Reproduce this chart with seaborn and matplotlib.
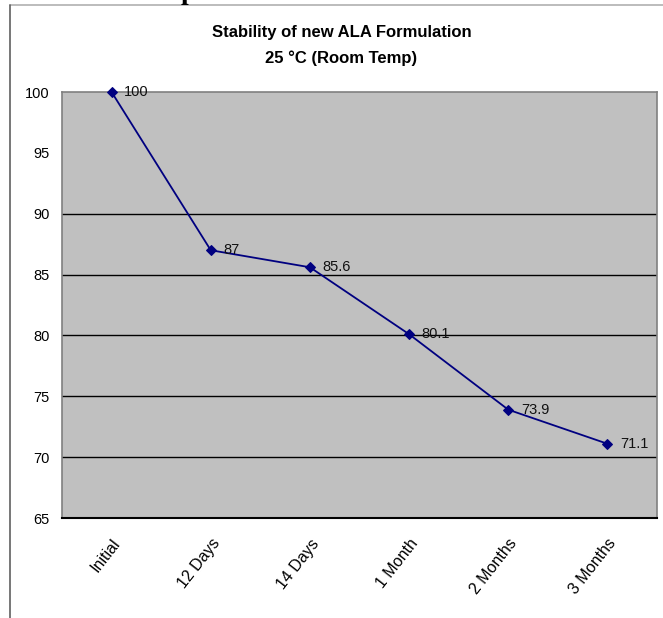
import matplotlib
matplotlib.use('Agg')
from matplotlib import pyplot as plt
import matplotlib.lines as mlines
import pandas as pd
import seaborn as sn

# stability readings (% of initial)
time_points = ['Initial', '12 Days', '14 Days', '1 Month', '2 Months', '3 Months']
percent_left = [100, 87, 85.6, 80.1, 73.9, 71.1]
y_ticks = [65, 70, 75, 80, 85, 90, 95, 100]
grid_levels = [70, 75, 80, 85, 90]

sn.set_style('white')
plt.rcParams['font.family'] = ['Liberation Sans', 'DejaVu Sans']
plt.rcParams['text.color'] = 'black'
plt.rcParams['xtick.color'] = 'black'
plt.rcParams['ytick.color'] = 'black'

df = pd.DataFrame({'time': time_points, 'pct': percent_left})
df['pos'] = range(len(df))

fig = plt.figure(figsize=(6.63, 6.18), dpi=100)
ax = fig.add_axes([62 / 663, 1 - 518 / 618, 595 / 663, 426 / 618])
ax.set_facecolor('#c0c0c0')

for g in grid_levels:
    ax.axhline(g, color='black', lw=1.0, zorder=1)

sn.lineplot(data=df, x='pos', y='pct', ax=ax, color='#000080', lw=1.3,
            marker='D', markersize=5, markeredgecolor='#000080', zorder=3,
            clip_on=False)

for x, y in zip(df['pos'], df['pct']):
    ax.annotate('%g' % y, (x, y), xytext=(9, 0), textcoords='offset points',
                va='center', ha='left', fontsize=10.5, color='#111111')

ax.set_xlim(-0.5, len(time_points) - 0.5)
ax.set_ylim(65, 100)
ax.set_yticks(y_ticks)
ax.set_yticklabels([str(t) for t in y_ticks], fontsize=10.5)
ax.set_xticks(df['pos'])
ax.set_xticklabels(time_points, rotation=52, ha='right', rotation_mode='anchor',
                   fontsize=11.5)
ax.tick_params(axis='x', length=0, pad=13)
ax.tick_params(axis='y', length=0, pad=9)
ax.set_xlabel('')
ax.set_ylabel('')

for side in ['left', 'top', 'right']:
    ax.spines[side].set_color('#808080')
    ax.spines[side].set_linewidth(1.2)
ax.spines['bottom'].set_color('black')
ax.spines['bottom'].set_linewidth(1.5)

fig.text(0.515, 1 - 33 / 618, 'Stability of new ALA Formulation', ha='center',
         va='center', fontsize=12, fontweight='bold')
fig.text(0.515, 1 - 58 / 618, '25 \u00b0C (Room Temp)', ha='center',
         va='center', fontsize=12, fontweight='bold')

# outer frame of the chart
fig.add_artist(mlines.Line2D([10 / 663, 1], [1 - 5 / 618, 1 - 5 / 618],
                             color='#b0b0b0', lw=1.2, transform=fig.transFigure))
fig.add_artist(mlines.Line2D([10 / 663, 10 / 663], [0, 1 - 5 / 618],
                             color='#606060', lw=1.2, transform=fig.transFigure))

# cut-off heading from the page above (only the descender shows)
fig.text(188 / 663, 1 + 1 / 618, 'p', ha='center', va='baseline', fontsize=20,
         fontweight='bold', family='Liberation Serif')

plt.savefig('out.png', dpi=100)
